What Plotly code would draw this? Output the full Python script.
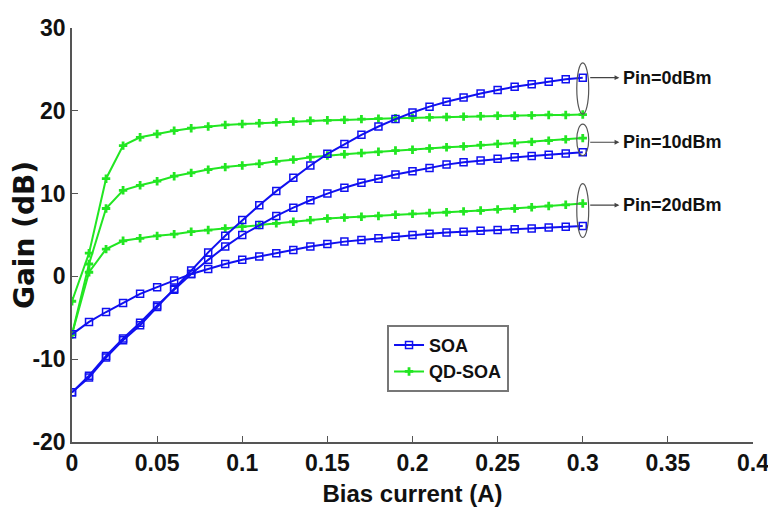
import plotly.graph_objects as go

# Bias current (A)
bias = [round(i * 0.01, 2) for i in range(31)]

# SOA gain (dB)
soa_pin0 = [-14.0, -12.2, -9.8, -7.7, -5.9, -3.7, -1.5, 0.7, 2.9, 4.9, 6.8, 8.6, 10.3, 11.9, 13.4, 14.8,
            16.0, 17.1, 18.1, 19.0, 19.8, 20.5, 21.1, 21.6, 22.1, 22.5, 22.9, 23.2, 23.5, 23.8, 24.0]
soa_pin10 = [-14.0, -12.0, -9.6, -7.5, -5.6, -3.5, -1.6, 0.3, 2.0, 3.6, 5.0, 6.2, 7.3, 8.3, 9.2, 10.0,
             10.7, 11.3, 11.8, 12.3, 12.7, 13.1, 13.5, 13.8, 14.0, 14.2, 14.4, 14.55, 14.7, 14.85, 15.0]
soa_pin20 = [-7.0, -5.5, -4.3, -3.2, -2.1, -1.3, -0.5, 0.3, 0.9, 1.5, 2.0, 2.4, 2.8, 3.2, 3.6, 3.9,
             4.2, 4.4, 4.6, 4.8, 5.0, 5.15, 5.3, 5.4, 5.5, 5.6, 5.7, 5.8, 5.9, 6.0, 6.1]

# QD-SOA gain (dB)
qd_pin0 = [-3.0, 2.8, 11.8, 15.8, 16.8, 17.2, 17.6, 17.9, 18.1, 18.3, 18.4, 18.5, 18.6, 18.7, 18.8, 18.85,
           18.9, 19.0, 19.05, 19.1, 19.15, 19.2, 19.25, 19.3, 19.35, 19.4, 19.4, 19.45, 19.5, 19.5, 19.55]
qd_pin10 = [-7.0, 1.5, 8.2, 10.4, 11.0, 11.5, 12.1, 12.5, 12.9, 13.2, 13.4, 13.6, 13.9, 14.1, 14.4, 14.6,
            14.75, 14.9, 15.05, 15.2, 15.3, 15.45, 15.6, 15.7, 15.85, 16.0, 16.1, 16.25, 16.4, 16.55, 16.7]
qd_pin20 = [-7.0, 0.5, 3.3, 4.3, 4.6, 4.9, 5.1, 5.4, 5.6, 5.8, 6.0, 6.2, 6.4, 6.6, 6.8, 7.0,
            7.1, 7.2, 7.3, 7.45, 7.55, 7.65, 7.75, 7.85, 7.95, 8.1, 8.2, 8.35, 8.5, 8.65, 8.8]

x_ticks = [0, 0.05, 0.1, 0.15, 0.2, 0.25, 0.3, 0.35, 0.4]
x_tick_labels = ["0", "0.05", "0.1", "0.15", "0.2", "0.25", "0.3", "0.35", "0.4"]
y_ticks = [-20, -10, 0, 10, 20, 30]
y_tick_labels = ["-20", "-10", "0", "10", "20", "30"]

pin_labels = ["Pin=0dBm", "Pin=10dBm", "Pin=20dBm"]
pin_label_y = [24.0, 16.2, 8.6]
ellipse_y0 = [19.6, 14.6, 4.7]
ellipse_y1 = [25.8, 18.4, 11.2]

BLUE = "#1010f0"
GREEN = "#22e622"
SANS = "Liberation Sans, Arial, sans-serif"

fig = go.Figure()

soa_series = [soa_pin0, soa_pin10, soa_pin20]
qd_series = [qd_pin0, qd_pin10, qd_pin20]

for i, ys in enumerate(qd_series):
    fig.add_trace(go.Scatter(
        x=bias, y=ys, mode="lines+markers", name="QD-SOA", legendgroup="qd",
        showlegend=(i == 0), legendrank=2,
        line=dict(color=GREEN, width=2),
        marker=dict(symbol="cross", size=7, color=GREEN),
    ))

for i, ys in enumerate(soa_series):
    fig.add_trace(go.Scatter(
        x=bias, y=ys, mode="lines+markers", name="SOA", legendgroup="soa",
        showlegend=(i == 0), legendrank=1,
        line=dict(color=BLUE, width=2),
        marker=dict(symbol="square-open", size=7, color=BLUE, line=dict(width=1.5, color=BLUE)),
    ))

for lbl, ly, e0, e1 in zip(pin_labels, pin_label_y, ellipse_y0, ellipse_y1):
    fig.add_shape(type="circle", xref="x", yref="y",
                  x0=0.2965, x1=0.3035, y0=e0, y1=e1,
                  line=dict(color="#555555", width=1.2))
    fig.add_annotation(x=0.3215, y=ly, ax=0.3035, ay=ly, xref="x", yref="y",
                       axref="x", ayref="y", showarrow=True, text="",
                       arrowhead=2, arrowsize=0.8, arrowwidth=1.2, arrowcolor="#444444")
    fig.add_annotation(x=0.3225, y=ly, xref="x", yref="y", text=lbl, showarrow=False,
                       xanchor="left", yanchor="middle",
                       font=dict(family=SANS, size=18, color="#111111", weight="bold"))

fig.update_layout(
    width=776, height=523,
    margin=dict(l=64, r=31, t=20, b=89),
    paper_bgcolor="white", plot_bgcolor="white",
    showlegend=True,
    legend=dict(x=0.4626, y=0.283, xanchor="left", yanchor="top",
                bgcolor="white", bordercolor="#777777", borderwidth=2,
                font=dict(family=SANS, size=18, color="#111111", weight="bold"),
                itemwidth=30, tracegroupgap=0),
)

fig.update_xaxes(
    range=[0, 0.4], tickmode="array", tickvals=x_ticks, ticktext=x_tick_labels,
    automargin=False,
    showgrid=False, zeroline=False, showline=True, linecolor="#555555", linewidth=1.5,
    ticks="inside", ticklen=6, tickcolor="#555555", tickwidth=1,
    tickfont=dict(family=SANS, size=23, color="#111111", weight="bold"),
    title=dict(text="Bias current (A)", standoff=10,
               font=dict(family=SANS, size=24, color="#111111", weight="bold")),
)
fig.update_yaxes(
    range=[-20, 30], tickmode="array", tickvals=y_ticks, ticktext=y_tick_labels,
    automargin=False,
    showgrid=False, zeroline=False, showline=True, linecolor="#555555", linewidth=1.5,
    ticks="inside", ticklen=6, tickcolor="#555555", tickwidth=1,
    tickfont=dict(family=SANS, size=23, color="#111111", weight="bold"),
    title=dict(text="Gain (dB)", standoff=6,
               font=dict(family="DejaVu Sans, sans-serif", size=28, color="#111111", weight="bold")),
)

fig.write_html("out.html")
